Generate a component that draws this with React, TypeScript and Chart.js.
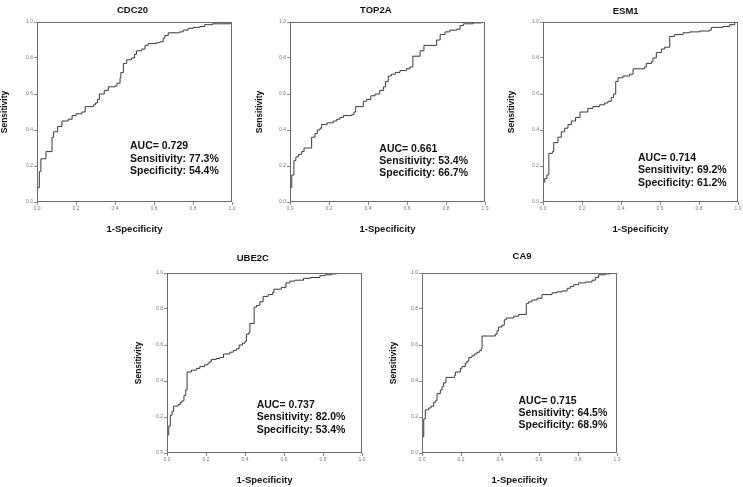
import React, { useEffect, useRef } from "react";
import { Chart, registerables } from "chart.js";

Chart.register(...registerables);

const FONT = "'Liberation Sans', Arial, sans-serif";

// Tick values shared by both axes
const TICK_VALUES = [0, 0.2, 0.4, 0.6, 0.8, 1.0];

// ---- CDC20 ----
const cdc20Fpr = [0, 0, 0.012, 0.02, 0.046, 0.077, 0.085, 0.106, 0.128, 0.16, 0.18, 0.2, 0.23, 0.247, 0.29, 0.3, 0.31, 0.32, 0.345, 0.366, 0.4, 0.41, 0.426, 0.43, 0.443, 0.46, 0.485, 0.5, 0.51, 0.537, 0.554, 0.57, 0.613, 0.63, 0.647, 0.656, 0.673, 0.73, 0.75, 0.775, 0.8, 0.835, 0.86, 0.9, 0.99, 1];
const cdc20Tpr = [0, 0.08, 0.17, 0.24, 0.28, 0.36, 0.39, 0.42, 0.45, 0.46, 0.48, 0.49, 0.5, 0.53, 0.54, 0.55, 0.57, 0.6, 0.62, 0.64, 0.645, 0.66, 0.69, 0.72, 0.77, 0.79, 0.8, 0.82, 0.84, 0.85, 0.87, 0.88, 0.885, 0.89, 0.91, 0.925, 0.94, 0.945, 0.955, 0.965, 0.97, 0.975, 0.985, 0.99, 0.995, 1];
const cdc20Stats = ["AUC= 0.729", "Sensitivity: 77.3%", "Specificity: 54.4%"];

// ---- TOP2A ----
const top2aFpr = [0, 0, 0.009, 0.02, 0.03, 0.043, 0.06, 0.072, 0.111, 0.128, 0.14, 0.154, 0.162, 0.19, 0.222, 0.24, 0.256, 0.274, 0.316, 0.328, 0.337, 0.376, 0.393, 0.414, 0.436, 0.46, 0.48, 0.49, 0.504, 0.52, 0.54, 0.564, 0.598, 0.615, 0.63, 0.667, 0.687, 0.752, 0.77, 0.795, 0.82, 0.855, 0.872, 0.89, 0.94, 0.983, 1];
const top2aTpr = [0, 0.08, 0.15, 0.23, 0.25, 0.265, 0.28, 0.3, 0.36, 0.38, 0.4, 0.41, 0.43, 0.44, 0.45, 0.46, 0.47, 0.48, 0.485, 0.5, 0.53, 0.56, 0.57, 0.59, 0.6, 0.62, 0.64, 0.67, 0.7, 0.71, 0.72, 0.73, 0.74, 0.75, 0.81, 0.84, 0.87, 0.9, 0.93, 0.945, 0.955, 0.96, 0.98, 0.99, 0.995, 1, 1];
const top2aStats = ["AUC= 0.661", "Sensitivity: 53.4%", "Specificity: 66.7%"];

// ---- ESM1 ----
const esm1Fpr = [0, 0, 0.009, 0.02, 0.03, 0.048, 0.055, 0.077, 0.094, 0.111, 0.128, 0.145, 0.167, 0.19, 0.23, 0.256, 0.29, 0.316, 0.333, 0.35, 0.362, 0.373, 0.385, 0.41, 0.444, 0.462, 0.521, 0.53, 0.556, 0.564, 0.581, 0.607, 0.624, 0.65, 0.675, 0.718, 0.752, 0.803, 0.855, 0.863, 0.923, 0.957, 0.983, 1];
const esm1Tpr = [0, 0.11, 0.13, 0.15, 0.27, 0.28, 0.33, 0.36, 0.39, 0.41, 0.43, 0.45, 0.47, 0.5, 0.52, 0.53, 0.54, 0.55, 0.56, 0.58, 0.6, 0.67, 0.69, 0.7, 0.71, 0.74, 0.75, 0.77, 0.78, 0.8, 0.83, 0.85, 0.86, 0.92, 0.93, 0.94, 0.945, 0.95, 0.955, 0.97, 0.975, 0.985, 1, 1];
const esm1Stats = ["AUC= 0.714", "Sensitivity: 69.2%", "Specificity: 61.2%"];

// ---- UBE2C ----
const ube2cFpr = [0, 0, 0.009, 0.017, 0.026, 0.034, 0.057, 0.068, 0.077, 0.087, 0.096, 0.103, 0.125, 0.15, 0.168, 0.193, 0.21, 0.22, 0.228, 0.253, 0.27, 0.29, 0.322, 0.34, 0.356, 0.37, 0.387, 0.4, 0.407, 0.42, 0.425, 0.447, 0.459, 0.476, 0.493, 0.519, 0.541, 0.548, 0.587, 0.61, 0.63, 0.656, 0.7, 0.733, 0.784, 0.81, 0.845, 0.87, 1];
const ube2cTpr = [0, 0.1, 0.15, 0.21, 0.23, 0.26, 0.27, 0.28, 0.29, 0.32, 0.35, 0.45, 0.46, 0.47, 0.48, 0.49, 0.5, 0.51, 0.52, 0.525, 0.53, 0.55, 0.56, 0.57, 0.58, 0.6, 0.61, 0.62, 0.66, 0.67, 0.72, 0.81, 0.82, 0.84, 0.87, 0.88, 0.89, 0.91, 0.92, 0.945, 0.955, 0.96, 0.97, 0.975, 0.985, 0.99, 0.995, 1, 1];
const ube2cStats = ["AUC= 0.737", "Sensitivity: 82.0%", "Specificity: 53.4%"];

// ---- CA9 ----
const ca9Fpr = [0, 0, 0.009, 0.017, 0.034, 0.046, 0.06, 0.068, 0.077, 0.094, 0.103, 0.111, 0.123, 0.166, 0.171, 0.197, 0.205, 0.222, 0.231, 0.24, 0.256, 0.268, 0.282, 0.296, 0.304, 0.308, 0.376, 0.385, 0.393, 0.41, 0.422, 0.432, 0.47, 0.496, 0.535, 0.547, 0.564, 0.59, 0.615, 0.667, 0.692, 0.718, 0.744, 0.76, 0.778, 0.803, 0.838, 0.872, 0.889, 0.906, 0.94, 0.966, 1];
const ca9Tpr = [0, 0.09, 0.19, 0.24, 0.25, 0.26, 0.28, 0.29, 0.33, 0.35, 0.37, 0.39, 0.42, 0.43, 0.45, 0.47, 0.48, 0.5, 0.51, 0.53, 0.54, 0.55, 0.56, 0.57, 0.58, 0.65, 0.66, 0.68, 0.7, 0.71, 0.74, 0.75, 0.76, 0.77, 0.83, 0.84, 0.85, 0.86, 0.88, 0.89, 0.895, 0.9, 0.915, 0.925, 0.935, 0.945, 0.95, 0.96, 0.975, 0.99, 0.995, 1, 1];
const ca9Stats = ["AUC= 0.715", "Sensitivity: 64.5%", "Specificity: 68.9%"];

const X_TITLE = "1-Specificity";
const Y_TITLE = "Sensitivity";

const PLOT_W = 195;
const PLOT_H = 180;
const TOP_PAD = 22;
const RIGHT_PAD = 5;
const X_AXIS_H = 34;

type PanelProps = {
  title: string;
  fpr: number[];
  tpr: number[];
  stats: string[];
  plotLeft: number;
  plotTop: number;
  yw: number;
  titleX: number;
  titleGap: number;
  annX: number;
  annY: number;
};

const overlayPlugin = {
  id: "rocOverlay",
  afterDatasetsDraw(chart: any, _args: any, opts: any) {
    const { ctx, chartArea: a, scales } = chart;
    ctx.save();
    // frame
    ctx.strokeStyle = "#6a6a6a";
    ctx.lineWidth = 1;
    ctx.strokeRect(Math.round(a.left) + 0.5, Math.round(a.top) + 0.5, Math.round(a.width) - 1, Math.round(a.height) - 1);
    // title
    ctx.fillStyle = "#111";
    ctx.font = `bold 9.5px ${FONT}`;
    ctx.textAlign = "center";
    ctx.textBaseline = "middle";
    ctx.fillText(opts.title, scales.x.getPixelForValue(opts.titleX), a.top - opts.titleGap);
    // stats text
    ctx.font = `bold 10.5px ${FONT}`;
    ctx.textAlign = "left";
    const x0 = scales.x.getPixelForValue(opts.annX);
    const y0 = scales.y.getPixelForValue(opts.annY);
    opts.stats.forEach((s: string, i: number) => {
      ctx.fillText(s, x0, y0 + i * 12.3);
    });
    ctx.restore();
  },
};

function RocPanel(p: PanelProps) {
  const ref = useRef<HTMLCanvasElement | null>(null);
  const width = p.yw + PLOT_W + RIGHT_PAD;
  const height = TOP_PAD + PLOT_H + X_AXIS_H;

  useEffect(() => {
    if (!ref.current) return;
    const data = p.fpr.map((x, i) => ({ x, y: p.tpr[i] }));
    const tickFont = { size: 5, family: FONT };
    const chart = new Chart(ref.current, {
      type: "line",
      data: {
        datasets: [
          {
            data,
            stepped: "before",
            borderColor: "#3a3a3a",
            borderWidth: 1,
            pointRadius: 0,
            fill: false,
          } as any,
        ],
      },
      options: {
        responsive: false,
        animation: false,
        devicePixelRatio: 1,
        layout: { padding: { top: TOP_PAD, right: RIGHT_PAD, left: 0, bottom: 0 } },
        plugins: {
          legend: { display: false },
          tooltip: { enabled: false },
          title: { display: false },
          rocOverlay: {
            title: p.title,
            titleX: p.titleX,
            titleGap: p.titleGap,
            annX: p.annX,
            annY: p.annY,
            stats: p.stats,
          },
        } as any,
        scales: {
          x: {
            type: "linear",
            min: 0,
            max: 1,
            afterBuildTicks: (s: any) => {
              s.ticks = TICK_VALUES.map((v) => ({ value: v }));
            },
            afterFit: (s: any) => {
              s.height = X_AXIS_H;
            },
            ticks: {
              font: tickFont,
              color: "#777",
              padding: 1,
              maxRotation: 0,
              autoSkip: false,
              callback: (v: any) => Number(v).toFixed(1),
            },
            grid: { drawOnChartArea: false, drawTicks: true, tickLength: 3, color: "#888" },
            border: { display: false },
            title: {
              display: true,
              text: X_TITLE,
              color: "#111",
              font: { size: 9.5, weight: "bold", family: FONT },
              padding: { top: 0, bottom: 1 },
            },
          },
          y: {
            type: "linear",
            min: 0,
            max: 1,
            afterBuildTicks: (s: any) => {
              s.ticks = TICK_VALUES.map((v) => ({ value: v }));
            },
            afterFit: (s: any) => {
              s.width = p.yw;
            },
            ticks: {
              font: tickFont,
              color: "#777",
              padding: 1,
              autoSkip: false,
              callback: (v: any) => Number(v).toFixed(1),
            },
            grid: { drawOnChartArea: false, drawTicks: true, tickLength: 3, color: "#888" },
            border: { display: false },
            title: {
              display: true,
              text: Y_TITLE,
              color: "#111",
              font: { size: 8.5, weight: "bold", family: FONT },
              padding: { top: 0, bottom: 0 },
            },
          },
        },
      } as any,
      plugins: [overlayPlugin as any],
    });
    return () => chart.destroy();
  }, []);

  return (
    <canvas
      ref={ref}
      width={width}
      height={height}
      style={{
        position: "absolute",
        left: p.plotLeft - p.yw,
        top: p.plotTop - TOP_PAD,
        width,
        height,
      }}
    />
  );
}

export default function App() {
  return (
    <div
      style={{
        position: "absolute",
        left: 0,
        top: 0,
        width: 743,
        height: 487,
        background: "#fff",
        overflow: "hidden",
      }}
    >
      <RocPanel title="CDC20" fpr={cdc20Fpr} tpr={cdc20Tpr} stats={cdc20Stats} plotLeft={37} plotTop={22} yw={37} titleX={0.49} titleGap={12} annX={0.477} annY={0.309} />
      <RocPanel title="TOP2A" fpr={top2aFpr} tpr={top2aTpr} stats={top2aStats} plotLeft={290} plotTop={22} yw={35} titleX={0.44} titleGap={12} annX={0.458} annY={0.296} />
      <RocPanel title="ESM1" fpr={esm1Fpr} tpr={esm1Tpr} stats={esm1Stats} plotLeft={543} plotTop={22} yw={36} titleX={0.424} titleGap={11} annX={0.487} annY={0.244} />
      <RocPanel title="UBE2C" fpr={ube2cFpr} tpr={ube2cTpr} stats={ube2cStats} plotLeft={167} plotTop={273} yw={33} titleX={0.44} titleGap={15} annX={0.46} annY={0.265} />
      <RocPanel title="CA9" fpr={ca9Fpr} tpr={ca9Tpr} stats={ca9Stats} plotLeft={422} plotTop={273} yw={33} titleX={0.513} titleGap={16.5} annX={0.495} annY={0.289} />
    </div>
  );
}
